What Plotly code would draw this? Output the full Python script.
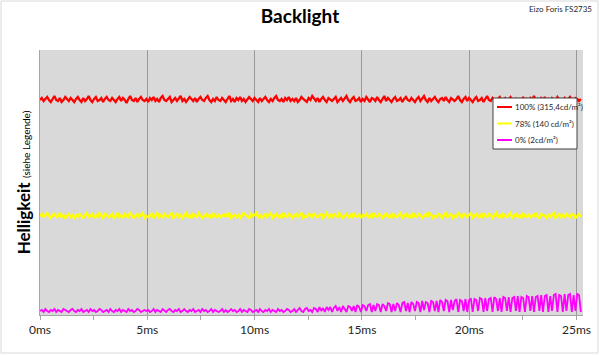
import plotly.graph_objects as go

# ---- data ----
step_ms = 0.084
red_100 = [215,217,214,216,218,215,213,216,219,215,214,217,213,215,218,216,214,217,215,213,
           216,218,215,213,217,214,216,219,215,213,216,218,214,215,217,213,216,218,215,214,
           217,215,213,216,218,214,217,215,212,216,219,215,214,217,213,216,218,215,214,216,
           213,217,215,218,214,216,213,217,219,215,214,216,218,213,215,217,214,216,219,214,
           216,213,215,218,216,214,217,213,216,218,215,214,217,219,215,213,216,214,218,215,
           214,217,215,213,216,219,214,216,213,217,215,218,214,216,213,215,218,216,214,217,
           215,213,217,214,216,218,215,213,216,214,217,219,215,214,216,213,217,215,218,214,
           216,214,217,213,215,218,216,214,213,217,215,219,216,214,217,213,216,218,215,213,
           217,215,214,216,218,213,215,217,214,216,219,215,213,216,218,214,215,217,213,216,
           214,218,215,213,217,216,214,218,215,213,216,219,214,217,215,213,216,218,214,215,
           217,213,216,218,215,214,217,215,213,216,218,214,216,219,215,213,217,214,216,218,
           215,213,216,217,214,218,215,213,217,215,214,216,219,215,213,216,218,214,217,215,
           213,216,218,214,215,217,213,216,219,215,214,217,215,213,216,218,214,216,217,213,
           216,218,215,214,217,213,216,215,218,214,216,213,217,215,219,214,216,213,217,215,
           218,214,216,213,217,215,214,218,216,213,215,217,214,216,218,215,213,217,216,214,
           216]
yellow_78 = [99,101,98,100,102,99,97,100,101,98,99,102,98,100,97,99,101,98,100,97,
             100,98,101,99,97,100,102,98,99,101,97,100,98,102,99,97,101,100,98,99,
             101,97,99,102,98,100,97,101,99,98,102,100,97,99,101,98,100,102,97,99,
             98,100,101,97,99,102,98,100,97,101,99,98,100,102,97,99,101,98,100,97,
             99,102,98,100,97,101,99,98,102,100,97,99,101,98,100,97,102,99,98,101,
             97,100,99,101,98,102,97,99,100,98,101,97,99,102,100,98,97,101,99,100,
             102,98,100,97,99,101,98,100,102,97,99,101,98,100,97,102,99,98,101,100,
             97,99,101,98,100,102,97,99,98,101,100,97,102,99,98,100,101,97,99,102,
             98,100,97,101,99,98,102,100,97,99,101,98,100,97,102,99,98,101,97,100,
             99,101,98,100,97,102,99,98,101,100,97,99,102,98,100,97,101,99,98,100,
             102,97,99,101,98,100,97,102,99,98,101,100,97,99,101,98,102,100,97,99,
             98,101,100,97,99,102,98,100,101,97,99,98,102,100,97,101,99,98,100,102,
             97,99,101,98,100,97,102,99,98,101,100,97,99,102,98,100,97,101,99,98,
             100,102,97,99,101,98,100,97,102,99,98,101,97,100,99,102,98,97,101,100,
             99,97,101,98,100,102,97,99,101,98,100,97,102,99,98,101,100,97,99,101,
             98]
magenta_0 = [4,5,3,6,4,3,5,4,6,3,5,4,3,6,5,4,3,5,6,4,
             3,5,4,6,3,4,5,3,6,4,5,3,4,6,5,3,4,5,3,6,
             4,3,5,4,6,3,5,4,3,6,4,5,3,4,6,5,3,4,5,4,
             5,3,4,6,3,5,4,3,6,4,3,5,6,4,3,5,4,6,3,4,
             6,4,3,5,4,6,3,4,5,3,6,4,5,3,4,6,3,5,4,3,
             4,6,3,5,3,4,6,4,5,3,4,6,3,5,4,3,6,5,3,4,
             5,3,6,4,3,5,4,6,3,5,4,3,6,4,5,3,4,6,5,3,
             4,6,3,5,7,4,3,6,7,4,5,3,7,6,3,8,4,7,3,8,
             5,8,3,7,9,4,8,3,9,6,3,9,8,4,9,3,10,8,3,10,
             9,4,10,11,3,10,4,11,10,3,11,9,4,12,11,3,11,4,12,10,
             3,12,13,4,12,3,13,11,4,13,12,3,14,5,13,12,3,14,13,4,
             14,3,15,13,4,15,14,3,15,5,14,16,3,15,14,4,16,3,15,16,
             3,16,15,4,17,16,3,17,4,16,17,3,18,16,4,17,3,18,17,4,
             18,3,17,18,4,19,3,18,17,3,19,18,4,19,3,18,19,4,20,3,
             19,20,3,19,4,20,21,3,20,19,3,21,4,20,21,3,20,4,21,20,
             3]
series_names = ["100% (315,4cd/m²)", "78% (140 cd/m²)", "0% (2cd/m²)"]
series_colors = ["#ff0000", "#ffff00", "#ff00ff"]
series_widths = [2.3, 2.4, 1.8]
x_ticks = [0, 5, 10, 15, 20, 25]
x_labels = ["0ms", "5ms", "10ms", "15ms", "20ms", "25ms"]

t = [round(i * step_ms, 3) for i in range(len(red_100))]

FONT = "Lato"
L, R, T, B = 40, 583, 50, 315   # plot area in pixels
PW, PH = R - L, B - T


def px(xp):
    return (xp - L) / PW


def py(yp):
    return (B - yp) / PH


fig = go.Figure()
for vals, name, col, w in zip([red_100, yellow_78, magenta_0], series_names, series_colors, series_widths):
    fig.add_trace(go.Scatter(x=t, y=vals, mode="lines", name=name,
                             line=dict(color=col, width=w), showlegend=False, hoverinfo="skip"))

fig.update_layout(
    template="none",
    width=600, height=356,
    margin=dict(l=L, r=600 - R, t=T, b=356 - B, pad=0),
    paper_bgcolor="white", plot_bgcolor="#d9d9d9",
    font=dict(family=FONT, color="#262626"),
    title=dict(text="<b>Backlight</b>", x=0.5, xref="container", xanchor="center",
               y=1 - 16 / 356, yanchor="middle", font=dict(size=19, color="#000000", family=FONT)),
    showlegend=False,
)
fig.update_xaxes(range=[0, 25.3], tickvals=x_ticks, ticktext=x_labels, automargin=False,
                 showgrid=True, gridcolor="#999999", gridwidth=1,
                 showline=True, linecolor="#a6a6a6", linewidth=1,
                 ticks="outside", ticklen=4, tickcolor="#a6a6a6",
                 minor=dict(dtick=2.5, ticks="outside", ticklen=4, tickcolor="#a6a6a6", showgrid=False),
                 tickfont=dict(size=12, color="#262626", family=FONT), zeroline=False)
fig.update_yaxes(range=[0, 265], showticklabels=False, showgrid=False, zeroline=False, automargin=False,
                 showline=True, linecolor="#a6a6a6", linewidth=1, ticks="",
                 title=dict(text="<b>Helligkeit</b> <span style='font-size:10px'>(siehe Legende)</span>",
                            font=dict(size=17, color="#000000", family=FONT), standoff=4))
fig.add_annotation(text="Eizo Foris FS2735", xref="paper", yref="paper",
                   x=px(594), y=py(9), xanchor="right", yanchor="middle",
                   showarrow=False, font=dict(size=8, color="#262626", family=FONT))
# outer chart border
fig.add_shape(type="rect", xref="paper", yref="paper",
              x0=px(1), x1=px(598), y0=py(353), y1=py(1),
              line=dict(color="#d9d9d9", width=1), fillcolor="rgba(0,0,0,0)", layer="below")
# legend box (drawn from the series names/colours)
fig.add_shape(type="rect", xref="paper", yref="paper",
              x0=px(493), x1=px(577), y0=py(149), y1=py(98),
              line=dict(color="#404040", width=1), fillcolor="white", layer="above")
for k, (name, col) in enumerate(zip(series_names, series_colors)):
    yk = 107 + k * 16.5
    fig.add_shape(type="line", xref="paper", yref="paper",
                  x0=px(497), x1=px(512), y0=py(yk), y1=py(yk),
                  line=dict(color=col, width=2), layer="above")
    fig.add_annotation(text=name, xref="paper", yref="paper", x=px(512.5), y=py(yk),
                       xanchor="left", yanchor="middle", showarrow=False,
                       font=dict(size=8, color="#262626", family=FONT))
fig.write_html("out.html", config={"displayModeBar": False},
               post_script="document.body.style.margin='0';document.body.style.overflow='hidden';")
